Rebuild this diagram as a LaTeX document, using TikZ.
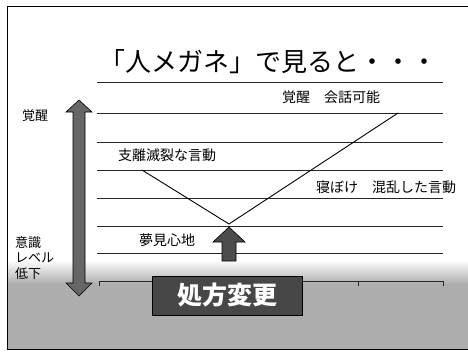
\documentclass[tikz,border=0pt]{standalone}
\usepackage{fontspec}
\setmainfont{Noto Sans CJK JP}
\usetikzlibrary{shapes.arrows}
\tikzset{
  grid/.style={line width=0.8pt, black!85},
  lbl/.style={font=\fontsize{14}{14}\selectfont, inner sep=0pt},
  side/.style={font=\fontsize{13}{13}\selectfont, inner sep=0pt, anchor=west},
  blockarrow/.style={draw=black, line width=0.6pt, fill=black!60}
}
\begin{document}
\begin{tikzpicture}[x=1pt,y=-1pt]
\useasboundingbox (0,0) rectangle (468,351);
\fill[white] (0,0) rectangle (468,351);
% grey halftone ground
\shade[top color=white, bottom color=black!32] (8,260) rectangle (468,284);
\fill[black!32] (8,284) rectangle (468,349);
% frame
\draw[line width=0.8pt] (468,6) -- (7,6) -- (7,349) -- (468,349);
% title
\node[inner sep=0pt, font=\fontsize{26}{26}\selectfont] (title) at (268,62) {「人メガネ」で見ると・・・};
% horizontal lines
\foreach \y/\n in {82/a,113/b,142/c,170/d,198/e,226/f,253/g}{
  \coordinate (l\n) at (97,\y);
  \coordinate (r\n) at (443,\y);
  \draw[grid] (l\n) -- (r\n);
}
% baseline with ticks
\coordinate (b1) at (99,281);
\coordinate (b2) at (443,281);
\draw[grid] (b1) -- (b2);
\foreach \x in {99,358,443}{ \draw[grid] (\x,281) -- (\x,286); }
% V-shaped curve
\coordinate (L) at (142,170);
\coordinate (V) at (229,224);
\coordinate (R) at (398,113);
\draw[line width=0.9pt] (L) -- (V) -- (R);
% labels
\node[lbl] (t1) at (331,97) {覚醒\hspace{1em}会話可能};
\node[lbl] (t2) at (167,155) {支離滅裂な言動};
\node[lbl] (t3) at (386,187) {寝ぼけ\hspace{1em}混乱した言動};
\node[lbl] (t4) at (167,240) {夢見心地};
% side labels
\node[side] (s1) at (22,116) {覚醒};
\node[side] (s2) at (15,243) {意識};
\node[side] (s3) at (15,258) {レベル};
\node[side] (s4) at (15,274) {低下};
% left double arrow
\draw[blockarrow] (79,100) -- (92,112) -- (85,112) -- (85,283) -- (92,283) -- (79,296)
  -- (66,283) -- (73,283) -- (73,112) -- (66,112) -- cycle;
% small up arrow
\draw[blockarrow, fill=black!70] (229,227) -- (245,242) -- (236,242) -- (236,261) -- (222,261)
  -- (222,242) -- (213,242) -- cycle;
% dark box
\node[draw=black, fill=black!72, minimum width=150pt, minimum height=39pt, inner sep=0pt,
  text=white, font=\fontsize{25}{25}\selectfont\bfseries] (box) at (227,295.5) {処方変更};
\end{tikzpicture}
\end{document}
